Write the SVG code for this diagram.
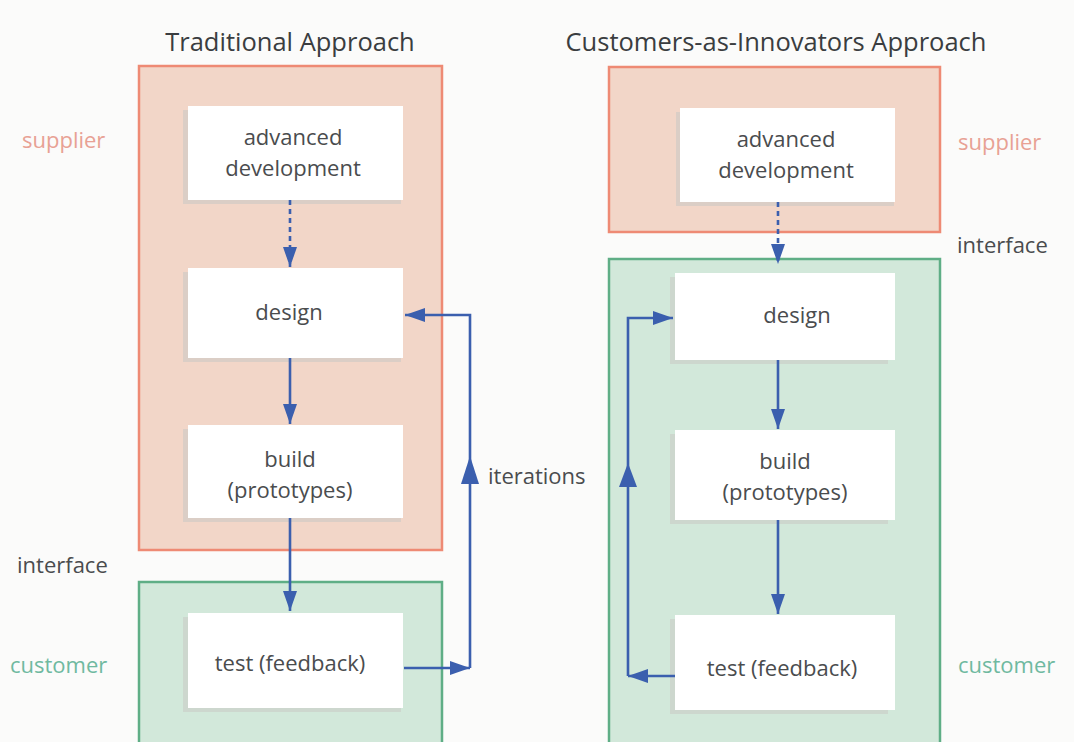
<svg xmlns="http://www.w3.org/2000/svg" width="1074" height="742" viewBox="0 0 1074 742">
<defs>
<style>
text{font-family:"Open Sans","Noto Sans","Liberation Sans",sans-serif;}
.title{font-size:25.5px;fill:#3a3d40;}
.node{font-size:22px;fill:#4a4c4e;text-anchor:middle;}
.side{font-size:22px;}
.sup{fill:#e8a194;}
.cus{fill:#6fb9a0;}
.ifc{fill:#4a4c4e;}
.supbox{fill:#f2d6c8;stroke:#ee8a74;stroke-width:2.5;}
.cusbox{fill:#d2e8da;stroke:#5fae86;stroke-width:2.5;}
.wbox{fill:#ffffff;}
.shadow{fill:#c9c9c4;opacity:0.55;}
.conn{stroke:#3b5fae;stroke-width:2.6;fill:none;}
.dash{stroke-dasharray:5 4;}
</style>
<marker id="ahb" viewBox="0 0 20 14" refX="20" refY="7" markerWidth="20" markerHeight="14" orient="auto" markerUnits="userSpaceOnUse">
<path d="M0,0 L20,7 L0,14 z" fill="#3b5fae"/>
</marker>
</defs>
<rect x="0" y="0" width="1074" height="742" fill="#fbfbfa"/>

<text class="title" x="290" y="51" text-anchor="middle">Traditional Approach</text>
<text class="title" x="776" y="51" text-anchor="middle">Customers-as-Innovators Approach</text>

<g id="left-supplier">
<rect class="supbox" x="139" y="66" width="303" height="484"/>
</g>
<g id="left-customer">
<rect class="cusbox" x="139" y="582" width="303" height="170"/>
</g>
<g id="right-supplier">
<rect class="supbox" x="609" y="67" width="331" height="165"/>
</g>
<g id="right-customer">
<rect class="cusbox" x="609" y="259" width="331" height="493"/>
</g>

<g id="labels">
<text class="side sup" x="22" y="148">supplier</text>
<text class="side ifc" x="17" y="573">interface</text>
<text class="side cus" x="10" y="673">customer</text>
<text class="side sup" x="958" y="150">supplier</text>
<text class="side ifc" x="957" y="253">interface</text>
<text class="side cus" x="958" y="673">customer</text>
<text class="side ifc" x="488" y="484">iterations</text>
</g>

<g id="l-adv">
<rect class="shadow" x="183" y="110" width="218" height="94"/>
<rect class="wbox" x="188" y="106" width="215" height="94"/>
<text class="node" x="293" y="145">advanced</text>
<text class="node" x="293" y="176">development</text>
</g>
<g id="l-design">
<rect class="shadow" x="183" y="272" width="218" height="90"/>
<rect class="wbox" x="188" y="268" width="215" height="90"/>
<text class="node" x="289" y="320">design</text>
</g>
<g id="l-build">
<rect class="shadow" x="183" y="429" width="218" height="93"/>
<rect class="wbox" x="188" y="425" width="215" height="93"/>
<text class="node" x="290" y="467">build</text>
<text class="node" x="290" y="498">(prototypes)</text>
</g>
<g id="l-test">
<rect class="shadow" x="183" y="617" width="218" height="95"/>
<rect class="wbox" x="188" y="613" width="215" height="95"/>
<text class="node" x="290" y="671">test (feedback)</text>
</g>

<g id="r-adv">
<rect class="shadow" x="676" y="112" width="218" height="94"/>
<rect class="wbox" x="680" y="108" width="215" height="94"/>
<text class="node" x="786" y="147">advanced</text>
<text class="node" x="786" y="178">development</text>
</g>
<g id="r-design">
<rect class="shadow" x="670" y="277" width="218" height="87"/>
<rect class="wbox" x="675" y="273" width="220" height="87"/>
<text class="node" x="797" y="323">design</text>
</g>
<g id="r-build">
<rect class="shadow" x="670" y="434" width="218" height="90"/>
<rect class="wbox" x="675" y="430" width="220" height="90"/>
<text class="node" x="785" y="469">build</text>
<text class="node" x="785" y="500">(prototypes)</text>
</g>
<g id="r-test">
<rect class="shadow" x="670" y="619" width="218" height="95"/>
<rect class="wbox" x="675" y="615" width="220" height="95"/>
<text class="node" x="782" y="676">test (feedback)</text>
</g>

<g id="connectors">
<line class="conn dash" x1="290" y1="200" x2="290" y2="267" marker-end="url(#ahb)"/>
<line class="conn" x1="290" y1="358" x2="290" y2="424" marker-end="url(#ahb)"/>
<line class="conn" x1="290" y1="518" x2="290" y2="611" marker-end="url(#ahb)"/>
<line class="conn" x1="404" y1="668" x2="470" y2="668" marker-end="url(#ahb)"/>
<polyline class="conn" points="470,668 470,315 405,315" marker-end="url(#ahb)"/>
<path d="M470,456 L479,484 L461,484 z" fill="#3b5fae"/>

<line class="conn dash" x1="778" y1="202" x2="778" y2="264" marker-end="url(#ahb)"/>
<line class="conn" x1="778" y1="360" x2="778" y2="429" marker-end="url(#ahb)"/>
<line class="conn" x1="778" y1="520" x2="778" y2="614" marker-end="url(#ahb)"/>
<line class="conn" x1="675" y1="676" x2="628" y2="676" marker-end="url(#ahb)"/>
<polyline class="conn" points="628,676 628,318 673,318" marker-end="url(#ahb)"/>
<path d="M628,463 L637,487 L619,487 z" fill="#3b5fae"/>
</g>
</svg>
